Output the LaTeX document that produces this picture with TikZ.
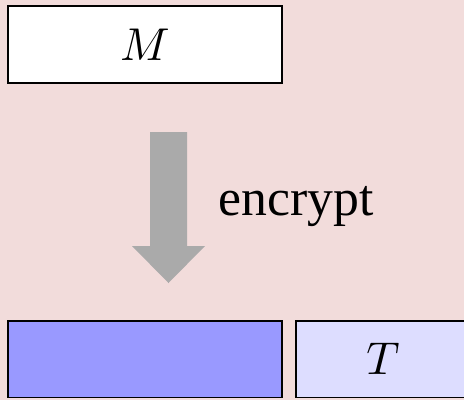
\documentclass[tikz,border=0pt]{standalone}
\usepackage{fontspec}
\DeclareFontShape{OML}{cmm}{m}{it}{<->cmmi10}{}
\DeclareFontShape{OMS}{cmsy}{m}{n}{<->cmsy10}{}
\newfontfamily\encfont{Liberation Serif}
\definecolor{bgpink}{RGB}{242,220,219}
\definecolor{cipher}{RGB}{153,153,255}
\definecolor{tagcol}{RGB}{221,221,255}
\definecolor{arrgray}{RGB}{170,170,170}
\tikzset{
  blockbox/.style={draw=black, line width=1.5pt, rectangle, inner sep=0pt, font=\fontsize{46}{50}\selectfont},
  bigarrow/.style={fill=arrgray, draw=none},
  labeltext/.style={inner sep=0pt, font=\encfont\fontsize{51.7}{60}\selectfont}
}
\begin{document}
\begin{tikzpicture}[x=1pt, y=-1pt]
\fill[bgpink] (0,0) rectangle (464,400);
\useasboundingbox (0,0) rectangle (464,400);
\clip (0,0) rectangle (464,400);
\node[blockbox, fill=white, minimum width=274pt, minimum height=77pt] (m) at (145,44.5) {$M$};
\node[blockbox, fill=cipher, minimum width=274pt, minimum height=76.5pt] (c) at (145,359.25) {};
\node[blockbox, fill=tagcol, minimum width=174pt, minimum height=76.5pt] (t) at (383,359.25) {$T$};
\coordinate (s1) at (150,132);
\coordinate (s2) at (187,132);
\coordinate (s3) at (187,246);
\coordinate (h1) at (205,246);
\coordinate (tip) at (168.5,283);
\coordinate (h2) at (132,246);
\coordinate (s4) at (150,246);
\fill[bigarrow] (s1) -- (s2) -- (s3) -- (h1) -- (tip) -- (h2) -- (s4) -- cycle;
\node[labeltext, anchor=base west] (enc) at (218.5,215) {encrypt};
\end{tikzpicture}
\end{document}
